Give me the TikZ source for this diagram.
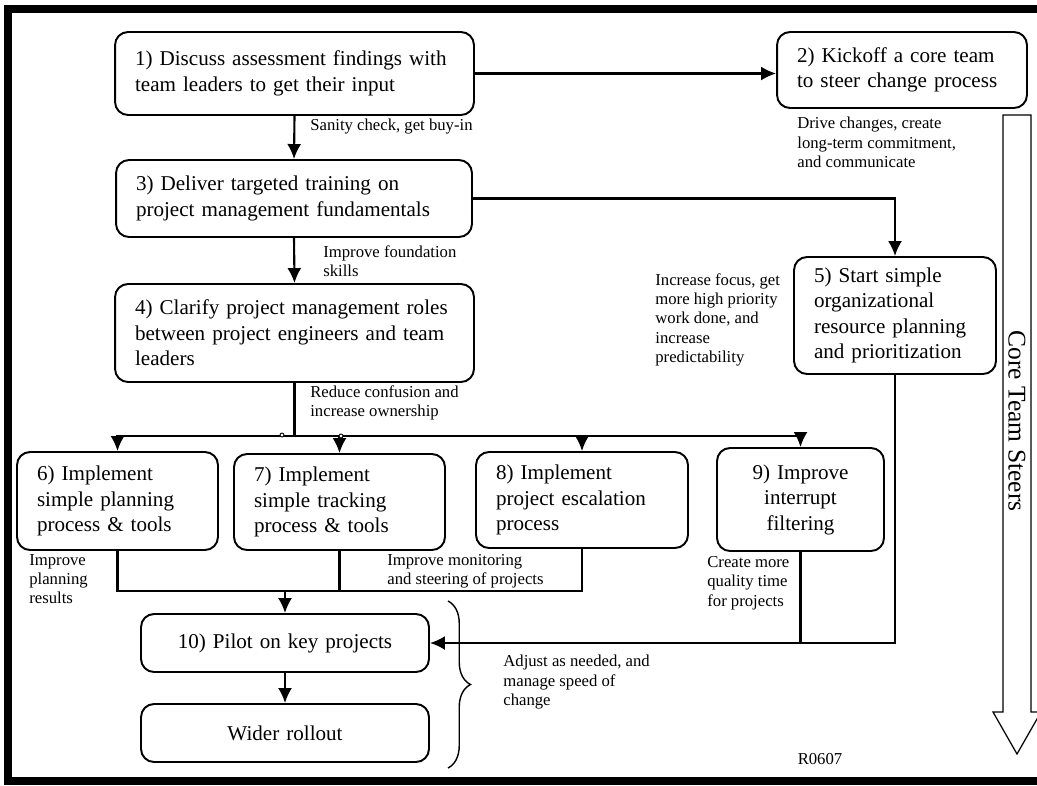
\documentclass[tikz,border=0pt]{standalone}
\usepackage{fontspec}
\setmainfont{Liberation Serif}
\usepackage{tikz}
\usetikzlibrary{arrows.meta,decorations.pathreplacing}
\tikzset{
  stepbox/.style={draw, line width=1.1pt, rounded corners=0.26cm, inner xsep=0.4cm, inner ysep=0pt, font=\fontsize{12}{14.5}\selectfont, align=left},
  note/.style={inner sep=0pt, font=\fontsize{9.5}{11}\selectfont, align=left, anchor=north west},
  link/.style={line width=1.2pt, -{Latex[length=0.3cm, width=0.28cm]}},
  bare/.style={line width=1.2pt},
}
\begin{document}
\begin{tikzpicture}[x=0.02cm, y=-0.02cm]
                \useasboundingbox (0,0) rectangle (1037,785);
                \clip (0,0) rectangle (1037,785);
                \fill[white] (0,0) rectangle (1037,785);
                \draw[line width=4.5pt] (8,9) rectangle (1060,781);
                \node[stepbox, text width=6.38cm, minimum height=1.66cm] (b1) at (294.5,73.5) {1) Discuss assessment findings with\\team leaders to get their input};
                \node[stepbox, text width=4.2cm, minimum height=1.52cm] (b2) at (902,70) {2) Kickoff a core team\\to steer change process};
                \node[stepbox, text width=6.32cm, minimum height=1.54cm] (b3) at (294,198.5) {3) Deliver targeted training on\\project management fundamentals};
                \node[stepbox, text width=6.38cm, minimum height=1.96cm] (b4) at (294.5,333) {4) Clarify project management roles\\between project engineers and team\\leaders};
                \node[stepbox, text width=3.24cm, minimum height=2.34cm] (b5) at (895,315.5) {5) Start simple\\organizational\\resource planning\\and prioritization};
                \node[stepbox, text width=3.22cm, minimum height=1.96cm] (b6) at (117.5,501) {6) Implement\\simple planning\\process \& tools};
                \node[stepbox, text width=3.42cm, minimum height=1.92cm] (b7) at (339.5,502) {7) Implement\\simple tracking\\process \& tools};
                \node[stepbox, text width=3.44cm, minimum height=1.92cm] (b8) at (582,500) {8) Implement\\project escalation\\process};
                \node[stepbox, text width=2.54cm, minimum height=2.06cm, align=center] (b9) at (800.5,499.5) {9) Improve\\interrupt\\filtering};
                \node[stepbox, text width=4.96cm, minimum height=1.16cm, align=center] (b10) at (285,643) {10) Pilot on key projects};
                \node[stepbox, text width=4.96cm, minimum height=1.16cm, align=center] (b11) at (285,733) {Wider rollout};
                \coordinate (br) at (294.5,436);
                \coordinate (mg) at (285,591);
                \draw[link] (b1) -- (b1 -| b2.west);
                \draw[link] (b1.south) -- (b3.north);
                \draw[link] (b3.south) -- (b4.north);
                \draw[link] (b3.east) -| (b5.north);
                \draw[bare] (b4.south) -- (br);
                \draw[link] (br) -| (b6.north);
                \draw[link] (br) -| (b9.north);
                \draw[link] (b7.north |- br) -- (b7.north);
                \draw[link] (b8.north |- br) -- (b8.north);
                \draw[line width=0.5pt, fill=white] (282,435) circle[radius=0.04cm] (341,436) circle[radius=0.04cm];
                \draw[bare] (b6.south) |- (mg) -| (b8.south);
                \draw[bare] (b7.south) -- (b7.south |- mg);
                \draw[link] (mg) -- (b10.north);
                \draw[link] (b5.south) |- (b10.east);
                \draw[bare] (b9.south) -- (b9.south |- b10.east);
                \draw[link] (b10.south) -- (b11.north);
                \draw[line width=0.8pt, decorate, decoration={brace, amplitude=0.45cm}] (448,601) -- (448,768);
                \node[note] (n1) at (310,119) {Sanity check, get buy-in};
                \node[note] (n3) at (323,245) {Improve foundation\\skills};
                \node[note] (n2) at (797,117) {Drive changes, create\\long-term commitment,\\and communicate};
                \node[note] (n5) at (655,273) {Increase focus, get\\more high priority\\work done, and\\increase\\predictability};
                \node[note] (n4) at (310,385) {Reduce confusion and\\increase ownership};
                \node[note] (n6) at (29,554) {Improve\\planning\\results};
                \node[note] (n7) at (387,554) {Improve monitoring\\and steering of projects};
                \node[note] (n9) at (707,556) {Create more\\quality time\\for projects};
                \node[note] (n10) at (503,655) {Adjust as needed, and\\manage speed of\\change};
                \node[note, anchor=center] (ref) at (820,759) {R0607};
                \draw[line width=0.7pt, fill=white] (1003,115) -- (1031,115) -- (1031,712) -- (1041,712) -- (1017,754) -- (993,712) -- (1003,712) -- cycle;
                \node[rotate=-90, inner sep=0pt, font=\fontsize{14.5}{16}\selectfont] (steer) at (1017,421) {Core Team Steers};
            \end{tikzpicture}
\end{document}
